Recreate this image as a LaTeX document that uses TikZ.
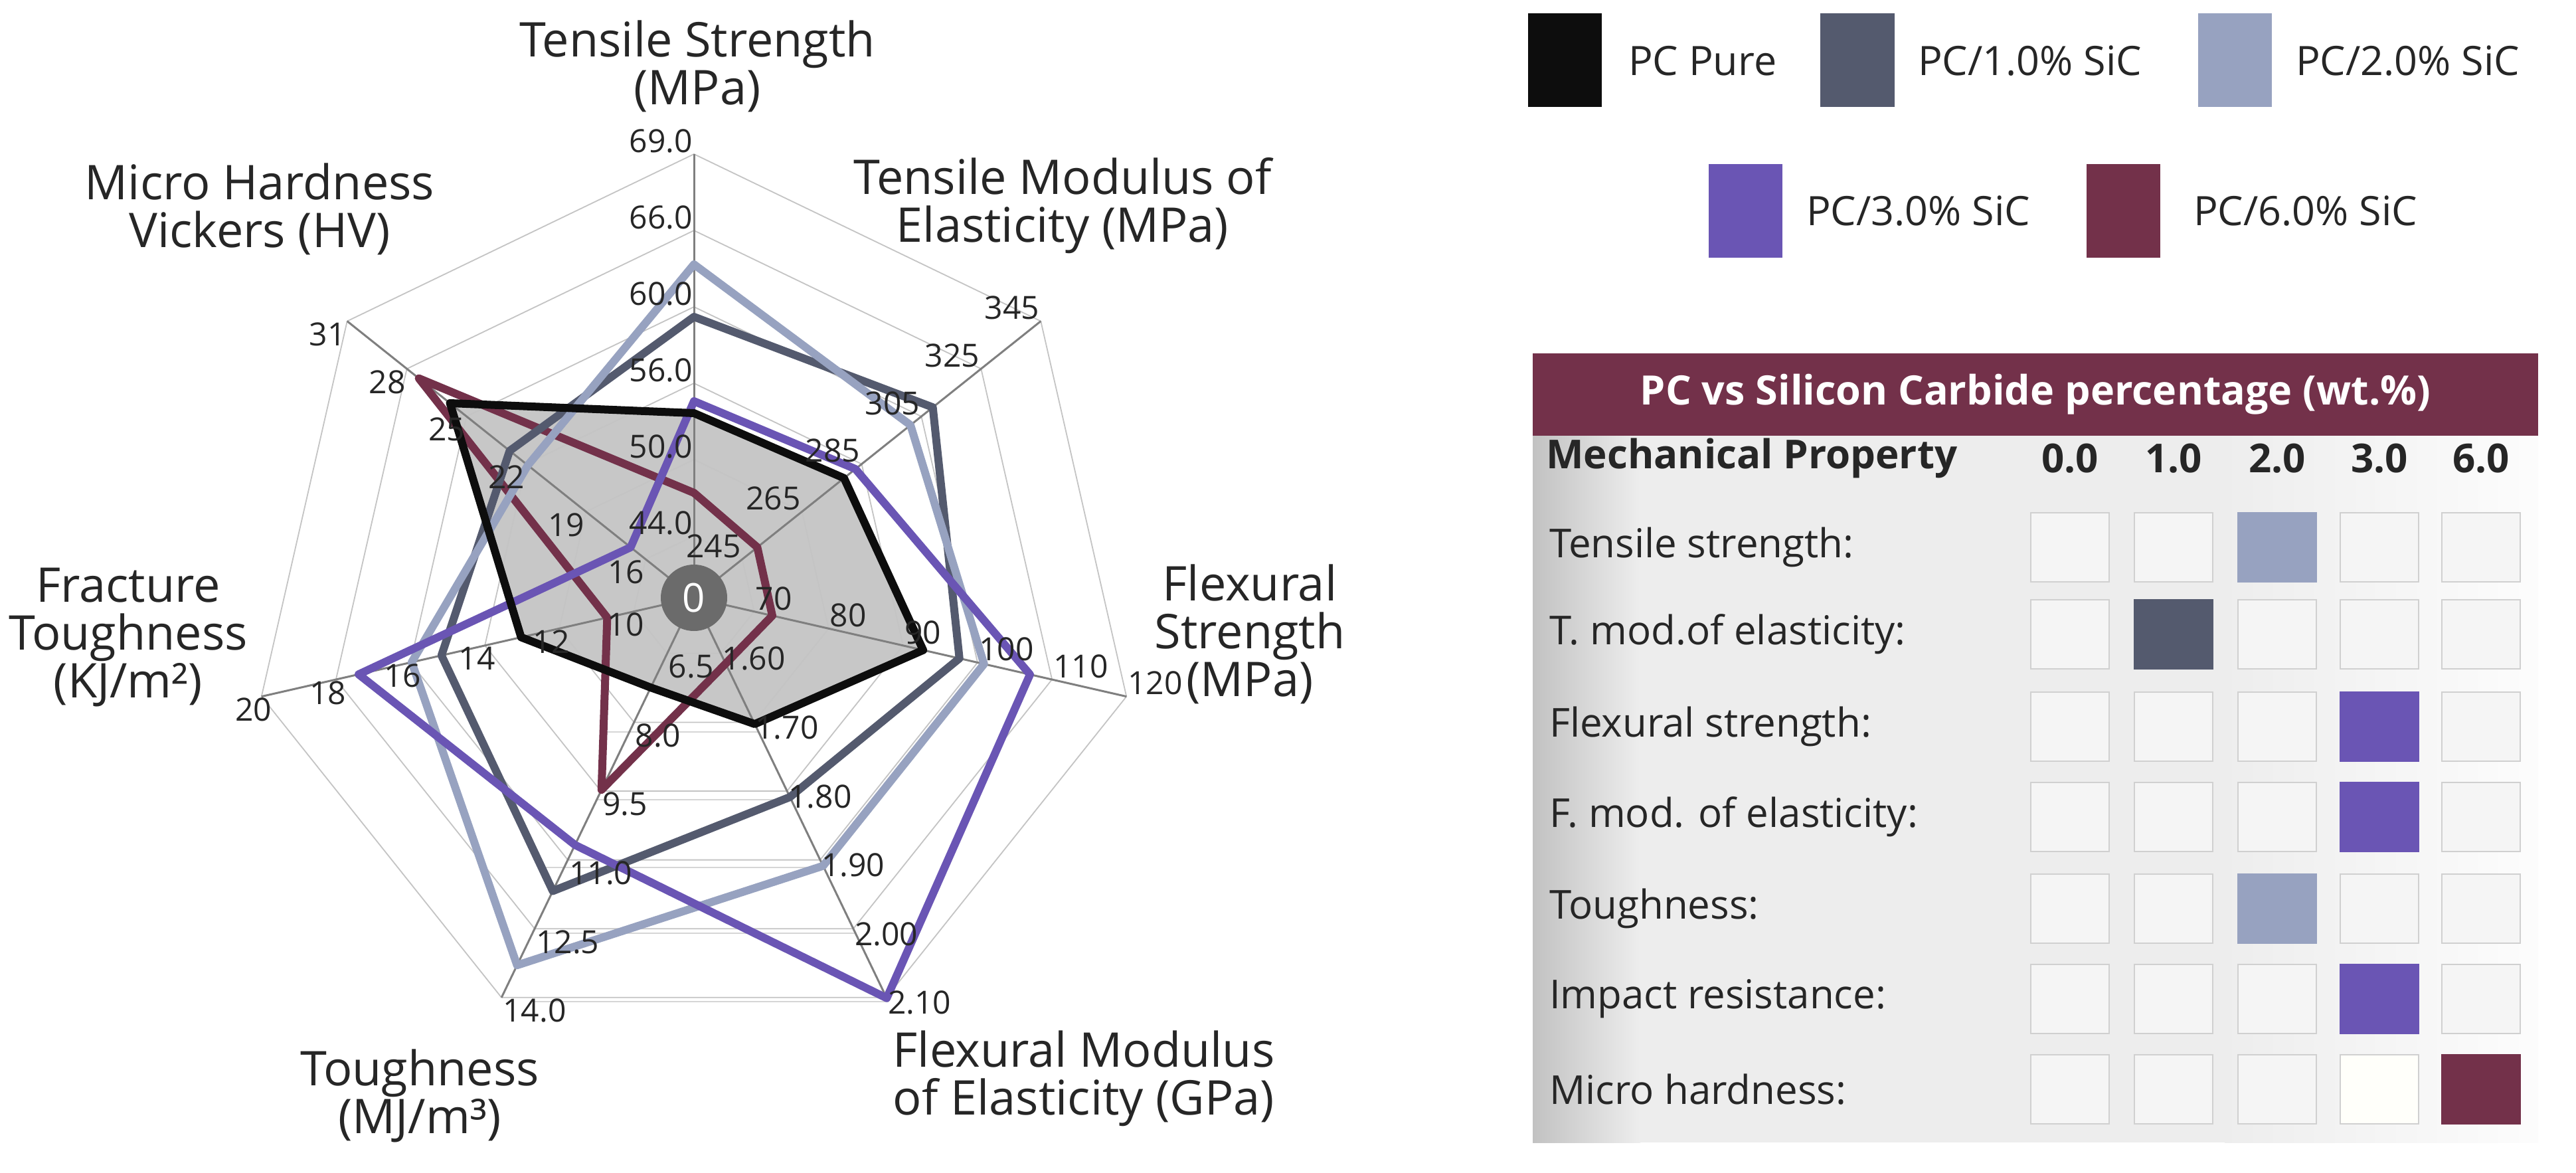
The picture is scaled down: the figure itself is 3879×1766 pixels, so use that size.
\documentclass[tikz,border=0pt]{standalone}
\usepackage{fontspec}
\setmainfont{Open Sans}
\definecolor{cPure}{HTML}{0D0D0D}
\definecolor{cOne}{HTML}{545A6E}
\definecolor{cTwo}{HTML}{97A2C0}
\definecolor{cThree}{HTML}{6A55B4}
\definecolor{cSix}{HTML}{73314A}
\definecolor{gridc}{HTML}{C4C4C4}
\definecolor{axisc}{HTML}{7F7F7F}
\definecolor{txt}{HTML}{262626}
\begin{document}
\begin{tikzpicture}[x=1pt,y=-1pt,
  title/.style={font=\fontsize{72}{72}\selectfont, text=txt, align=center, inner sep=0pt},
  tick/.style={font=\fontsize{48}{48}\selectfont, text=txt, inner sep=2pt},
  ser/.style={line width=12pt, line join=round},
  legtxt/.style={font=\fontsize{61}{61}\selectfont, text=txt, anchor=west, inner sep=0pt},
  rowtxt/.style={font=\fontsize{60}{60}\selectfont, text=txt, anchor=west, inner sep=0pt},
  colh/.style={font=\bfseries\fontsize{60}{60}\selectfont, text=txt, inner sep=0pt},
  cell/.style={draw=gridc!80, line width=2pt, fill=white!96!black, minimum width=118pt, minimum height=104pt, inner sep=0pt}]
\useasboundingbox (0,0) rectangle (3879,1766);
\fill[white] (0,0) rectangle (3879,1766);

% ---------- radar ----------
\coordinate (C) at (1045,900);
\begin{scope}[shift={(C)}]
\def\A{-90}\def\B{-38.571}\def\Cc{12.857}\def\D{64.286}\def\E{115.714}\def\F{167.143}\def\G{218.571}
\fill[black!22] (\A:278) -- (\B:289) -- (\Cc:354) -- (\D:211) -- (\E:150) -- (\F:267) -- (\G:470) -- cycle;
\foreach \yy/\xl in {202/-140,304/-145,406/-226,505/-228,608/-245}{
  \pgfmathsetmacro\xr{0.4816*\yy}
  \draw[gridc!70, line width=1.5pt] (\xl,\yy) -- (\xr,\yy);
}
\foreach \k in {0,...,5}{
  \pgfmathsetmacro\r{93+115*\k}
  \draw[gridc, line width=1.8pt] (\A:\r) -- (\B:\r) -- (\Cc:\r) -- (\D:\r) -- (\E:\r) -- (\F:\r) -- (\G:\r) -- cycle;
}
\foreach \a in {\A,\B,\Cc,\D,\E,\F,\G}{
  \draw[axisc, line width=3pt] (0,0) -- (\a:668);
}
\draw[ser, cSix] (\A:158) -- (\B:122) -- (\Cc:121) -- (\D:110) -- (\E:321) -- (\F:134) -- (\G:530) -- cycle;
\draw[ser, cOne] (\A:423) -- (\B:460) -- (\Cc:410) -- (\D:333) -- (\E:490) -- (\F:390) -- (\G:355) -- cycle;
\draw[ser, cTwo] (\A:502) -- (\B:417) -- (\Cc:448) -- (\D:448) -- (\E:614) -- (\F:436) -- (\G:320) -- cycle;
\draw[ser, cThree] (\A:296) -- (\B:311) -- (\Cc:519) -- (\D:669) -- (\E:413) -- (\F:518) -- (\G:122) -- cycle;
\draw[ser, cPure] (\A:278) -- (\B:289) -- (\Cc:354) -- (\D:211) -- (\E:150) -- (\F:267) -- (\G:470) -- cycle;
\node[circle, fill=black!58, minimum size=100pt, inner sep=0pt, text=white, font=\fontsize{60}{60}\selectfont] (ctr) at (0,0) {0};
\foreach \k/\v in {0/44.0,1/50.0,2/56.0,3/60.0,4/66.0,5/69.0}{
  \pgfmathsetmacro\r{93+115*\k}
  \node[tick, anchor=south east] (ts\k) at (\A:\r) {\v};}
\foreach \k/\v in {0/245,1/265,2/285,3/305,4/325,5/345}{
  \pgfmathsetmacro\r{93+115*\k}
  \node[tick, anchor=south east] (tm\k) at (\B:\r) {\v};}
\foreach \k/\v in {0/70,1/80,2/90,3/100,4/110,5/120}{
  \pgfmathsetmacro\r{93+115*\k}
  \node[tick, anchor=south west] (fs\k) at (\Cc:\r) {\v};}
\foreach \k/\v in {0/1.60,1/1.70,2/1.80,3/1.90,4/2.00,5/2.10}{
  \pgfmathsetmacro\r{93+115*\k}
  \node[tick, anchor=north west, yshift=12pt] (fm\k) at (\D:\r) {\v};}
\foreach \k/\v in {0/6.5,1/8.0,2/9.5,3/11.0,4/12.5,5/14.0}{
  \pgfmathsetmacro\r{93+115*\k}
  \node[tick, anchor=north west] (tg\k) at (\E:\r) {\v};}
\foreach \k/\v in {0/10,1/12,2/14,3/16,4/18,5/20}{
  \pgfmathsetmacro\r{93+115*\k}
  \node[tick, anchor=north, xshift=-12pt] (ft\k) at (\F:\r) {\v};}
\foreach \k/\v in {0/16,1/19,2/22,3/25,4/28,5/31}{
  \pgfmathsetmacro\r{93+115*\k}
  \node[tick, anchor=north east] (hv\k) at (\G:\r) {\v};}
\end{scope}
\node[title] (tTS) at (1050,100) {Tensile Strength\\(MPa)};
\node[title] (tTM) at (1600,310) {Tensile Modulus of\\Elasticity (MPa)};
\node[title] (tHV) at (391,315) {Micro Hardness\\Vickers (HV)};
\node[title] (tFS) at (1882,955) {Flexural\\Strength\\(MPa)};
\node[title] (tFT) at (193,960) {Fracture\\Toughness\\(KJ/m²)};
\node[title] (tFM) at (1632,1624) {Flexural Modulus\\of Elasticity (GPa)};
\node[title] (tTG) at (632,1650) {Toughness\\(MJ/m³)};

% ---------- legend ----------
\fill[cPure] (2301,20) rectangle (2412,161);
\node[legtxt] (l0) at (2452,92) {PC Pure};
\fill[cOne] (2741,20) rectangle (2853,161);
\node[legtxt] (l1) at (2888,92) {PC/1.0\% SiC};
\fill[cTwo] (3310,20) rectangle (3421,161);
\node[legtxt] (l2) at (3457,92) {PC/2.0\% SiC};
\fill[cThree] (2573,247) rectangle (2684,388);
\node[legtxt] (l3) at (2720,318) {PC/3.0\% SiC};
\fill[cSix] (3142,247) rectangle (3253,388);
\node[legtxt] (l6) at (3303,318) {PC/6.0\% SiC};

% ---------- table ----------
\fill[white!93!black] (2308,656) rectangle (3822,1720);
\shade[left color=white!76!black, right color=white!93!black] (2308,656) rectangle (2470,1720);
\shade[left color=white!93!black, right color=white!99!black] (3350,656) rectangle (3822,1720);
\fill[cSix] (2308,532) rectangle (3822,656);
\node[font=\bfseries\fontsize{61}{61}\selectfont, text=white] (hdr) at (3065,594) {PC vs Silicon Carbide percentage (wt.\%)};
\node[colh, anchor=west] (mp) at (2328,690) {Mechanical Property};
\foreach \x/\v [count=\i] in {3117/0.0,3273/1.0,3429/2.0,3583/3.0,3736/6.0}{
  \node[colh] (ch\i) at (\x,690) {\v};}
\foreach \y/\lab [count=\j] in {824/Tensile strength:,955/T. mod.of elasticity:,1094/Flexural strength:,1230/F. mod. of elasticity:,1368/Toughness:,1504/Impact resistance:,1640/Micro hardness:}{
  \node[rowtxt] (rl\j) at (2333,\y) {\lab};
  \foreach \x [count=\i] in {3117,3273,3429,3583,3736}{
    \node[cell] (c\j-\i) at (\x,\y) {};}
}
\node[cell, fill=cTwo, draw=cTwo] (f1) at (3429,824) {};
\node[cell, fill=cOne, draw=cOne] (f2) at (3273,955) {};
\node[cell, fill=cThree, draw=cThree] (f3) at (3583,1094) {};
\node[cell, fill=cThree, draw=cThree] (f4) at (3583,1230) {};
\node[cell, fill=cTwo, draw=cTwo] (f5) at (3429,1368) {};
\node[cell, fill=cThree, draw=cThree] (f6) at (3583,1504) {};
\node[cell, fill=white!98!yellow] (f7a) at (3583,1640) {};
\node[cell, fill=cSix, draw=cSix] (f7) at (3736,1640) {};
\end{tikzpicture}
\end{document}
